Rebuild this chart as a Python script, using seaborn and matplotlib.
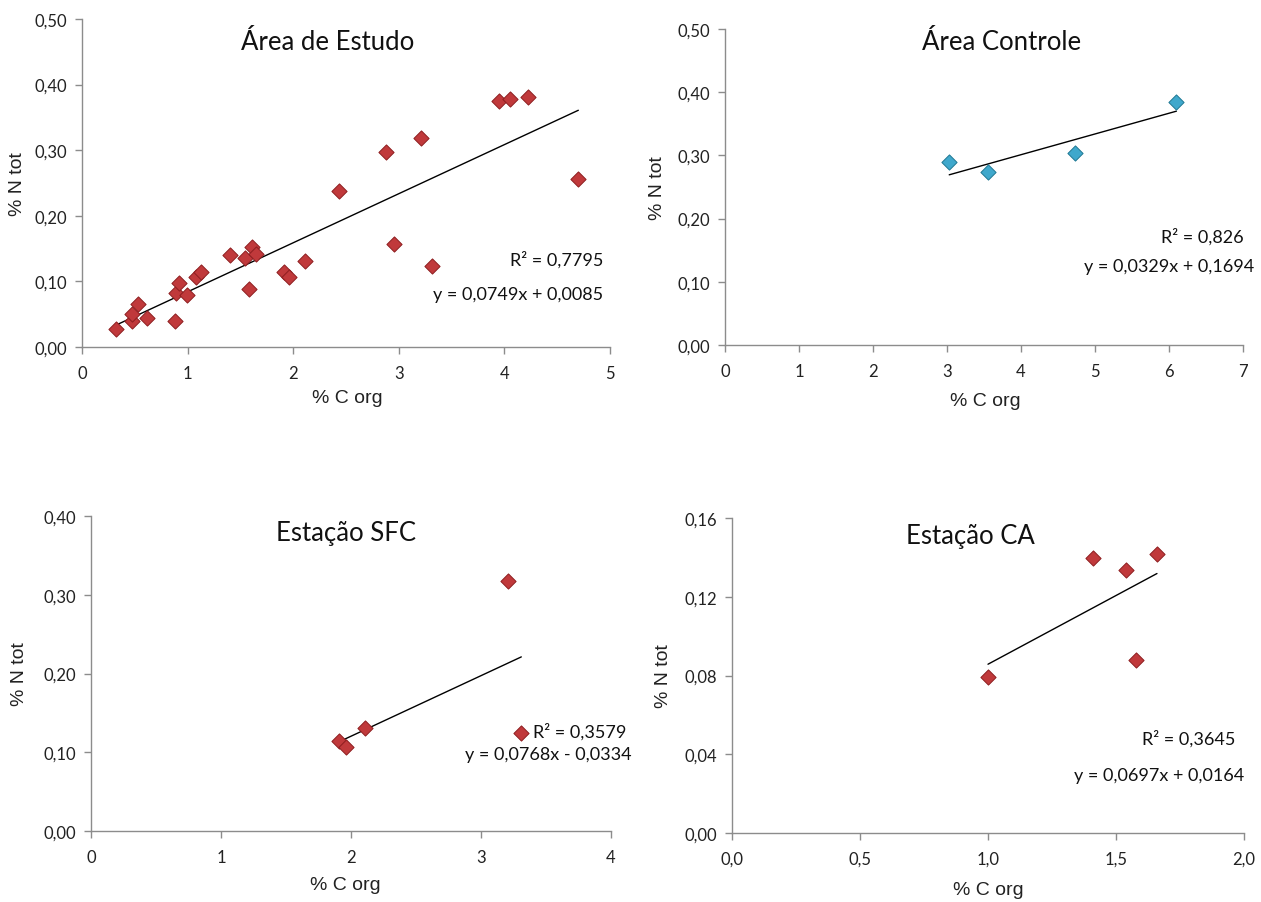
import matplotlib
matplotlib.use("Agg")
import matplotlib.pyplot as plt
from matplotlib.ticker import FuncFormatter, MultipleLocator
import seaborn as sns
import pandas as pd

# ---------------- data ----------------
estudo_c = [0.32, 0.475, 0.475, 0.53, 0.62, 0.88, 0.89, 0.92, 0.99, 1.08, 1.13,
            1.40, 1.54, 1.58, 1.61, 1.65, 1.91, 1.96, 2.11, 2.43, 2.88, 2.95,
            3.21, 3.31, 3.95, 4.05, 4.22, 4.70]
estudo_n = [0.028, 0.040, 0.051, 0.066, 0.044, 0.039, 0.083, 0.098, 0.080, 0.106, 0.114,
            0.140, 0.135, 0.089, 0.152, 0.142, 0.114, 0.107, 0.131, 0.238, 0.297, 0.157,
            0.318, 0.123, 0.375, 0.378, 0.381, 0.256]

controle_c = [3.03, 3.56, 4.73, 6.10]
controle_n = [0.290, 0.273, 0.304, 0.384]

sfc_c = [1.91, 1.96, 2.11, 3.21, 3.31]
sfc_n = [0.114, 0.107, 0.131, 0.318, 0.124]

ca_c = [1.00, 1.41, 1.54, 1.58, 1.66]
ca_n = [0.079, 0.1395, 0.1335, 0.088, 0.1415]

titles = ["Área de Estudo", "Área Controle", "Estação SFC", "Estação CA"]
r2_labels = ["R² = 0,7795", "R² = 0,826", "R² = 0,3579", "R² = 0,3645"]
eq_labels = ["y = 0,0749x + 0,0085", "y = 0,0329x + 0,1694",
             "y = 0,0768x - 0,0334", "y = 0,0697x + 0,0164"]
xlabel = "% C org"
ylabel = "% N tot"

# ---------------- style ----------------
sns.set_style("white")
plt.rcParams['font.family'] = ['Liberation Sans', 'DejaVu Sans']
narrow = ['Lato', 'DejaVu Sans']

W, H = 1261, 903
fig = plt.figure(figsize=(W / 100, H / 100), dpi=100)

def rect(l, r, t, b):
    return [l / W, (H - b) / H, (r - l) / W, (b - t) / H]

red = "#C0393B"
red_edge = "#8E1E20"
blue = "#3FA8CC"
blue_edge = "#1F7894"
spine_c = "#8C8C8C"

panels = [
    dict(rect=rect(82, 610, 20, 348), x=estudo_c, y=estudo_n, color=red, edge=red_edge,
         xlim=(0, 5), xstep=1, ylim=(0, 0.5), ystep=0.1, xfmt="{:.0f}", yfmt="{:.2f}",
         title=(0.465, 0.93), r2=(0.987, 0.268), eq=(0.987, 0.162),
         ylab=(-0.106, 0.5), xlab=(0.503, -0.128)),
    dict(rect=rect(725, 1243, 30, 346), x=controle_c, y=controle_n, color=blue, edge=blue_edge,
         xlim=(0, 7), xstep=1, ylim=(0, 0.5), ystep=0.1, xfmt="{:.0f}", yfmt="{:.2f}",
         title=(0.533, 0.959), r2=(1.002, 0.345), eq=(1.021, 0.25),
         ylab=(-0.114, 0.5), xlab=(0.502, -0.149)),
    dict(rect=rect(91, 611, 517, 832), x=sfc_c, y=sfc_n, color=red, edge=red_edge,
         xlim=(0, 4), xstep=1, ylim=(0, 0.4), ystep=0.1, xfmt="{:.0f}", yfmt="{:.2f}",
         title=(0.49, 0.949), r2=(1.029, 0.317), eq=(1.04, 0.244),
         ylab=(-0.121, 0.5), xlab=(0.49, -0.142)),
    dict(rect=rect(732, 1244, 519, 834), x=ca_c, y=ca_n, color=red, edge=red_edge,
         xlim=(0, 2), xstep=0.5, ylim=(0, 0.16), ystep=0.04, xfmt="{:.1f}", yfmt="{:.2f}",
         title=(0.465, 0.946), r2=(0.984, 0.302), eq=(1.0, 0.184),
         ylab=(-0.117, 0.5), xlab=(0.50, -0.152)),
]

for i, p in enumerate(panels):
    ax = fig.add_axes(p["rect"])
    df = pd.DataFrame({"c": p["x"], "n": p["y"]})
    sns.regplot(data=df, x="c", y="n", ax=ax, scatter=False, ci=None, truncate=True,
                color="black", line_kws=dict(lw=1.0))
    sns.scatterplot(data=df, x="c", y="n", ax=ax, marker="D", s=60,
                    color=p["color"], edgecolor=p["edge"], linewidth=0.7, zorder=3,
                    clip_on=False)
    ax.set_xlim(*p["xlim"])
    ax.set_ylim(*p["ylim"])
    ax.xaxis.set_major_locator(MultipleLocator(p["xstep"]))
    ax.yaxis.set_major_locator(MultipleLocator(p["ystep"]))
    xf, yf = p["xfmt"], p["yfmt"]
    ax.xaxis.set_major_formatter(FuncFormatter(lambda v, pos, f=xf: f.format(v).replace('.', ',')))
    ax.yaxis.set_major_formatter(FuncFormatter(lambda v, pos, f=yf: f.format(v).replace('.', ',')))
    for s in ["top", "right"]:
        ax.spines[s].set_visible(False)
    for s in ["left", "bottom"]:
        ax.spines[s].set_color(spine_c)
        ax.spines[s].set_linewidth(1.0)
    ax.tick_params(axis="x", which="major", direction="out", length=5, width=1.0,
                   color=spine_c, labelsize=12, pad=8, bottom=True)
    ax.tick_params(axis="y", which="major", direction="out", length=5, width=1.0,
                   color=spine_c, labelsize=12, pad=6, left=True)
    for lab in ax.get_xticklabels() + ax.get_yticklabels():
        lab.set_family(narrow)
        lab.set_color("#222222")
    ax.set_xlabel(xlabel, fontsize=14, color="#222222")
    ax.set_ylabel(ylabel, fontsize=14, color="#222222")
    ax.xaxis.set_label_coords(*p["xlab"])
    ax.yaxis.set_label_coords(*p["ylab"])
    ax.text(p["title"][0], p["title"][1], titles[i], transform=ax.transAxes,
            ha="center", va="center", fontsize=18.5, family=narrow, color="#111111")
    ax.text(p["r2"][0], p["r2"][1], r2_labels[i], transform=ax.transAxes,
            ha="right", va="center", fontsize=13, family=narrow, color="#111111")
    ax.text(p["eq"][0], p["eq"][1], eq_labels[i], transform=ax.transAxes,
            ha="right", va="center", fontsize=13, family=narrow, color="#111111")

fig.savefig("out.png", dpi=100)
